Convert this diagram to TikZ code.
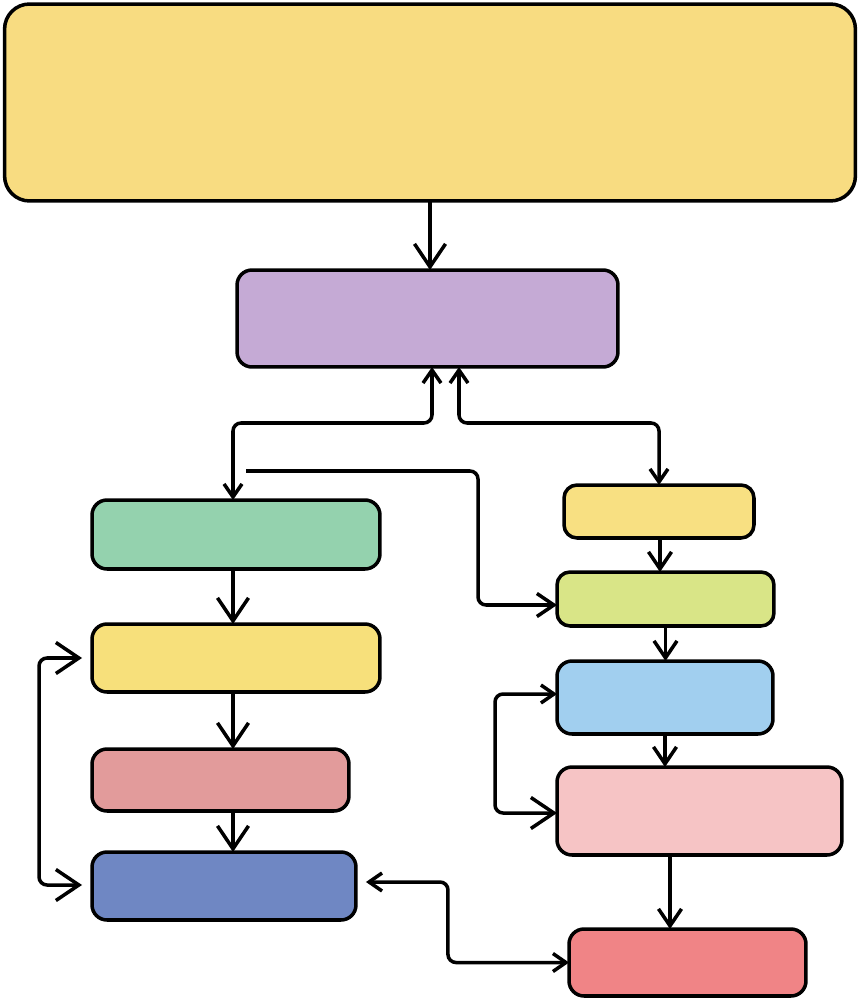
\documentclass[tikz,border=0pt]{standalone}
\usetikzlibrary{arrows.meta}
\tikzset{
  LargeBarb/.tip={Straight Barb[length=0.46cm,width=0.62cm]},
  MidBarb/.tip={Straight Barb[length=0.34cm,width=0.46cm]},
  SmallBarb/.tip={Straight Barb[length=0.26cm,width=0.36cm]},
}
\definecolor{sunY}{HTML}{F8DC81}
\definecolor{lilac}{HTML}{C5AAD5}
\definecolor{mint}{HTML}{94D2AE}
\definecolor{butter}{HTML}{F7E07B}
\definecolor{rose}{HTML}{E29B9B}
\definecolor{cobalt}{HTML}{6F87C3}
\definecolor{paleY}{HTML}{F8E082}
\definecolor{lime}{HTML}{D9E587}
\definecolor{sky}{HTML}{A1CFEF}
\definecolor{blush}{HTML}{F6C4C5}
\definecolor{coral}{HTML}{F08486}
\begin{document}
\begin{tikzpicture}[x=0.02cm,y=-0.02cm,
    box/.style={draw,line width=2pt,rounded corners=0.3cm,inner sep=0pt,outer sep=0pt},
    link/.style={line width=2pt,rounded corners=0.16cm}]
  \useasboundingbox (0,0) rectangle (860,1000);
  \node[box,fill=sunY,rounded corners=0.5cm,minimum width=17.02cm,minimum height=3.94cm] (goal) at (430,102.5) {};
  \node[box,fill=lilac,minimum width=7.62cm,minimum height=1.94cm] (hub) at (427.5,318.5) {};
  \node[box,fill=mint,minimum width=5.76cm,minimum height=1.38cm] (lone) at (236,534.5) {};
  \node[box,fill=butter,minimum width=5.76cm,minimum height=1.36cm] (ltwo) at (236,658) {};
  \node[box,fill=rose,minimum width=5.14cm,minimum height=1.24cm] (lthree) at (220.5,780) {};
  \node[box,fill=cobalt,minimum width=5.28cm,minimum height=1.36cm] (lfour) at (224,886) {};
  \node[box,fill=paleY,rounded corners=0.26cm,minimum width=3.8cm,minimum height=1.06cm] (rone) at (659,511.5) {};
  \node[box,fill=lime,rounded corners=0.26cm,minimum width=4.34cm,minimum height=1.08cm] (rtwo) at (665.5,599) {};
  \node[box,fill=sky,minimum width=4.32cm,minimum height=1.46cm] (rthree) at (665,697.5) {};
  \node[box,fill=blush,minimum width=5.7cm,minimum height=1.76cm] (rfour) at (699.5,811) {};
  \node[box,fill=coral,minimum width=4.74cm,minimum height=1.34cm] (rfive) at (687.5,962.5) {};
  \coordinate (feed) at (246,471);

  \draw[link,-LargeBarb] (goal.south) -- (goal.south |- hub.north);
  \draw[link,SmallBarb-SmallBarb] ([xshift=0.09cm]hub.south) -- ++(0,56) -| ([xshift=-0.06cm]lone.north);
  \draw[link,SmallBarb-SmallBarb] ([xshift=0.63cm]hub.south) -- ++(0,56) -| (rone.north);
  \draw[link,-MidBarb] (feed) -- ++(232,0) |- ([yshift=-0.12cm]rtwo.west);

  % left column
  \draw[link,-LargeBarb] ([xshift=-0.06cm]lone.south) -- ([xshift=-0.06cm]lone.south |- ltwo.north);
  \draw[link,-LargeBarb] ([xshift=-0.06cm]ltwo.south) -- ([xshift=-0.06cm]ltwo.south |- lthree.north);
  \draw[link,-LargeBarb] ([xshift=-0.06cm]ltwo.south |- lthree.south) -- ([xshift=-0.06cm]ltwo.south |- lfour.north);
  \draw[link,LargeBarb-LargeBarb,shorten <=0.2cm,shorten >=0.2cm] (ltwo.west) -- ++(-53,0) |- ([yshift=0.02cm]lfour.west);

  % right column
  \draw[link,-MidBarb] ([xshift=0.02cm]rone.south) -- ([xshift=0.02cm]rone.south |- rtwo.north);
  \draw[link,-MidBarb] (rtwo.south) -- (rtwo.south |- rthree.north);
  \draw[link,-MidBarb] (rthree.south) -- (rthree.south |- rfour.north);
  \draw[link,SmallBarb-LargeBarb] ([yshift=0.07cm]rthree.west) -- ++(-62,0) |- ([yshift=-0.04cm]rfour.west);
  \draw[link,-MidBarb] ([xshift=-0.59cm]rfour.south) -- ([xshift=-0.59cm]rfour.south |- rfive.north);
  \draw[link,SmallBarb-SmallBarb,shorten <=0.2cm] ([yshift=0.08cm]lfour.east) -- ++(92,0) |- (rfive.west);
\end{tikzpicture}
\end{document}
